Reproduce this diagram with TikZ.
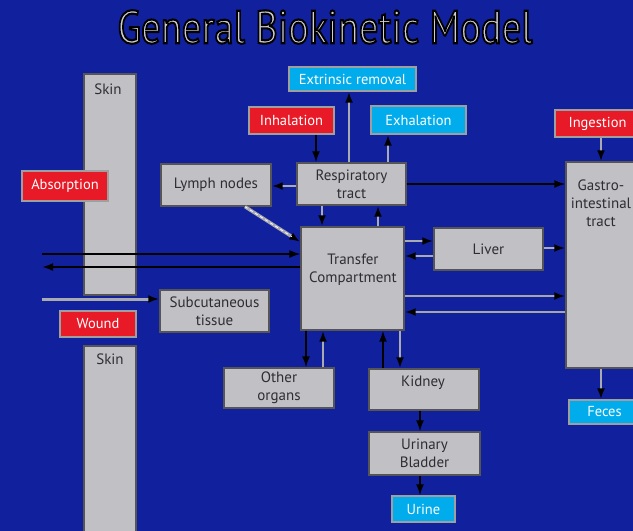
\documentclass[tikz,border=0pt]{standalone}
\usepackage{fontspec}
\setmainfont{PT Sans}
\usetikzlibrary{arrows.meta}
\definecolor{bg}{RGB}{17,33,158}
\definecolor{boxgray}{RGB}{192,192,197}
\definecolor{boxline}{RGB}{85,85,88}
\definecolor{txtgray}{RGB}{45,45,50}
\definecolor{redbox}{RGB}{232,26,40}
\definecolor{cyanbox}{RGB}{0,172,236}
\definecolor{linegray}{RGB}{170,170,177}
\definecolor{titlegray}{RGB}{205,205,210}
\tikzset{
  sz/.style 2 args={minimum width=#1pt, minimum height=#2pt},
  gbox/.style={draw=boxline, fill=boxgray, line width=1.4pt, inner sep=0pt,
    text=txtgray, align=center, font=\fontsize{15}{18}\selectfont},
  rbox/.style={draw=gray!75, fill=redbox, line width=1.3pt, inner sep=0pt,
    text=white, font=\fontsize{14.5}{17}\selectfont},
  cbox/.style={draw=gray!75, fill=cyanbox, line width=1.3pt, inner sep=0pt,
    text=white, font=\fontsize{14.5}{17}\selectfont},
  lbl/.style={text=txtgray, align=center, inner sep=0pt, font=\fontsize{15}{18}\selectfont},
  tip/.tip={Latex[length=11pt,width=8pt,black]},
  garrow/.style={draw=linegray, line width=2.4pt, -tip},
  barrow/.style={draw=black, line width=1.6pt, -tip},
}
\begin{document}
\begin{tikzpicture}[x=1pt,y=-1pt]
\fill[bg] (0,0) rectangle (633,531);
\useasboundingbox (0,0) rectangle (633,531);

% title, grey letters with a black outline (text render mode 2)
\node[inner sep=0pt] (title) at (325,27) {\resizebox{415pt}{33pt}{\color{titlegray}\special{pdf:literal direct 0 0 0 RG 2 Tr 0.45 w}General Biokinetic Model\special{pdf:literal direct 0 Tr}}};

% boxes
\node[gbox, sz={52}{221}] (skinA) at (110,184.5) {};
\node[lbl] (skinAt) at (108,89) {Skin};
\node[gbox, sz={52}{192}] (skinB) at (110,442) {};
\node[lbl] (skinBt) at (110,359) {Skin};
\node[rbox, sz={86}{30}] (absorp) at (65,186) {Absorption};
\node[rbox, sz={76}{26}] (wound) at (98,324) {Wound};
\node[gbox, sz={110}{42}] (lymph) at (216,185) {Lymph nodes};
\node[gbox, sz={109}{42}] (subcut) at (214.5,311) {Subcutaneous\\tissue};
\node[gbox, sz={109}{42}] (resp) at (351.5,184) {Respiratory\\tract};
\node[gbox, sz={103}{103}] (trans) at (352.5,278.5) {};
\node[lbl] (transt) at (353,270) {Transfer\\Compartment};
\node[gbox, sz={109}{42}] (liver) at (488.5,249) {Liver};
\node[gbox, sz={74}{206}] (gi) at (603,265) {};
\node[lbl] (git) at (601,203) {Gastro-\\intestinal\\tract};
\node[rbox, sz={85}{27}, text width=75pt, align=center] (ingest) at (597.5,123.5) {Ingestion};
\node[cbox, sz={71}{24}, text width=65pt, align=center] (feces) at (604.5,412) {Feces};
\node[gbox, sz={110}{40}] (other) at (279,388) {Other\\organs};
\node[gbox, sz={110}{41}] (kidney) at (424,389.5) {};
\node[lbl] (kidneyt) at (423,383) {Kidney};
\node[gbox, sz={111}{43}] (bladder) at (424.5,453.5) {Urinary\\Bladder};
\node[cbox, sz={63}{26}] (urine) at (423.5,509) {Urine};
\node[cbox, sz={127}{24}] (extr) at (352.5,79) {Extrinsic removal};
\node[rbox, sz={85}{27}] (inhal) at (291.5,120.5) {Inhalation};
\node[cbox, sz={95}{28}] (exhal) at (418.5,120) {Exhalation};

% free ends on the left
\coordinate (L1) at (42,254);
\coordinate (L2) at (42,267);
\coordinate (L3) at (42,299);

% connectors
\draw[barrow] (inhal.south -| 316,0) -- (resp.north -| 316,0);
\draw[garrow] (resp.north -| 349,0) -- (extr.south -| 349,0);
\draw[garrow] (resp.north -| 388,0) -- (exhal.south -| 388,0);
\draw[garrow] (resp.west |- 0,186) -- (lymph.east |- 0,186);
\draw[barrow] (resp.east |- 0,184) -- (gi.west |- 0,184);
\draw[garrow] (resp.south -| 322,0) -- (trans.north -| 322,0);
\draw[garrow] (trans.north -| 378,0) -- (resp.south -| 378,0);
\draw[garrow, line width=3.4pt] (lymph.south -| 245,0) -- (trans.west |- 0,242);
\draw[draw=white, line width=0.8pt, dashed, shorten >=10pt] (lymph.south -| 245,0) -- (trans.west |- 0,242);
\draw[barrow, line width=1.3pt] (L1) -- (trans.west |- L1);
\draw[barrow, line width=2.4pt] (trans.west |- L2) -- (L2);
\draw[garrow, line width=3pt] (L3) -- (subcut.west |- L3);
\draw[garrow] (trans.east |- 0,241) -- (liver.west |- 0,241);
\draw[garrow] (liver.west |- 0,256) -- (trans.east |- 0,256);
\draw[garrow] (liver.east |- 0,248) -- (gi.west |- 0,248);
\draw[garrow, draw=gray!70] (trans.east |- 0,296) -- (gi.west |- 0,296);
\draw[garrow, draw=gray!70] (gi.west |- 0,312) -- (trans.east |- 0,312);
\draw[barrow] (trans.south -| 306,0) -- (other.north -| 306,0);
\draw[garrow] (other.north -| 323,0) -- (trans.south -| 323,0);
\draw[barrow] (kidney.north -| 383,0) -- (trans.south -| 383,0);
\draw[garrow] (trans.south -| 400,0) -- (kidney.north -| 400,0);
\draw[barrow] (kidney.south -| 420,0) -- (bladder.north -| 420,0);
\draw[barrow] (bladder.south -| 420,0) -- (urine.north -| 420,0);
\draw[garrow] (ingest.south -| 601,0) -- (gi.north -| 601,0);
\draw[garrow] (gi.south -| 601,0) -- (feces.north -| 601,0);
\end{tikzpicture}
\end{document}
